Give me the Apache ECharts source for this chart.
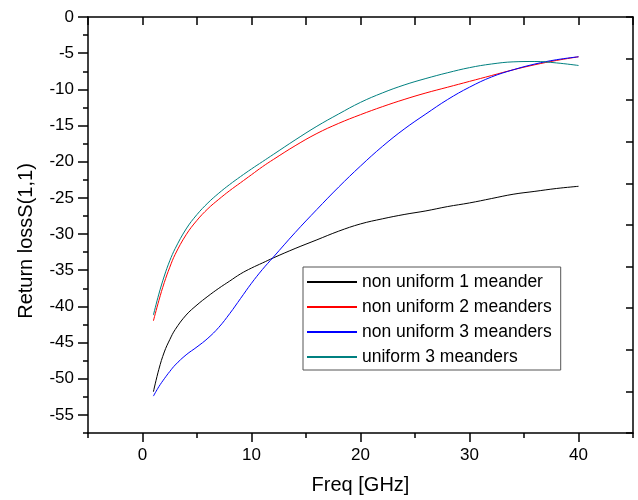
<!DOCTYPE html>
<html lang="en">
<head>
    <meta charset="UTF-8">
    <title>Return loss S(1,1)</title>
    <script type="text/javascript" src="https://cdn.jsdelivr.net/npm/echarts@6/dist/echarts.min.js"></script>
    <style type="text/css">
        html, body { margin: 0; padding: 0; background: #fff; }
        #chart { width: 638px; height: 500px; }
    </style>
</head>
<body>
<div id="chart"></div>
<script type="text/javascript">
    // frequency samples (GHz)
    var freq = [1, 1.5, 2, 2.5, 3, 4, 5, 6, 7, 8, 9, 10, 11, 12, 14, 16, 18, 20, 22, 24, 26, 28, 30, 32, 34, 36, 38, 40];

    // return loss S(1,1), dB
    var nonUniform1 = [-51.8, -48.7, -46.3, -44.6, -43.2, -41.2, -39.8, -38.6, -37.5, -36.5, -35.5, -34.7, -34.0, -33.3,
        -32.0, -30.8, -29.6, -28.6, -27.9, -27.3, -26.8, -26.2, -25.7, -25.1, -24.5, -24.1, -23.7, -23.4];
    var nonUniform2 = [-42.0, -39.2, -36.7, -34.6, -32.8, -30.1, -28.1, -26.5, -25.2, -24.0, -22.9, -21.8, -20.7, -19.7,
        -17.8, -16.1, -14.7, -13.5, -12.4, -11.4, -10.5, -9.7, -8.9, -8.1, -7.3, -6.6, -6.0, -5.5];
    var nonUniform3 = [-52.4, -51.1, -50.0, -49.0, -48.1, -46.7, -45.6, -44.4, -42.9, -41.0, -38.9, -36.8, -34.9, -33.2,
        -29.8, -26.6, -23.5, -20.6, -17.9, -15.5, -13.4, -11.4, -9.7, -8.3, -7.3, -6.5, -5.9, -5.5];
    var uniform3 = [-41.2, -38.3, -35.8, -33.7, -32.0, -29.3, -27.3, -25.7, -24.35, -23.15, -22.05, -21.0, -20.0, -19.0,
        -17.0, -15.1, -13.4, -11.8, -10.5, -9.4, -8.5, -7.7, -7.0, -6.5, -6.2, -6.15, -6.35, -6.7];

    var seriesNames = ['non uniform 1 meander', 'non uniform 2 meanders', 'non uniform 3 meanders', 'uniform 3 meanders'];
    var seriesValues = [nonUniform1, nonUniform2, nonUniform3, uniform3];
    var colors = ['#000000', '#ff0000', '#0000ff', '#008080'];

    // tick positions
    var xMajor = [0, 10, 20, 30, 40];
    var xMinor = [-5, 5, 15, 25, 35, 45];
    var yMajor = [0, -5, -10, -15, -20, -25, -30, -35, -40, -45, -50, -55];
    var yMinor = [-2.5, -7.5, -12.5, -17.5, -22.5, -27.5, -32.5, -37.5, -42.5, -47.5, -52.5, -57.5];

    var font = "'Liberation Sans', Arial, Helvetica, sans-serif";
    var axisColor = '#000';

    function pairs(vals) {
        return freq.map(function (f, i) { return [f, vals[i]]; });
    }

    var chart = echarts.init(document.getElementById('chart'));

    var baseX = {type: 'value', min: -5, max: 45, splitLine: {show: false}};
    var baseY = {type: 'value', min: -57.5, max: 0, splitLine: {show: false}};

    var option = {
        animation: false,
        backgroundColor: '#fff',
        grid: {left: 88, right: 5, top: 17, bottom: 65},
        legend: {
            orient: 'vertical',
            left: 303,
            top: 267,
            padding: [6, 9, 4, 4],
            itemGap: 7,
            itemWidth: 50,
            itemHeight: 2,
            icon: 'rect',
            borderColor: '#555',
            borderWidth: 1,
            textStyle: {fontFamily: font, fontSize: 17.5, color: '#000', lineHeight: 18},
            data: seriesNames
        },
        xAxis: [
            Object.assign({}, baseX, {
                position: 'bottom',
                name: 'Freq [GHz]',
                nameLocation: 'middle',
                nameGap: 42,
                nameTextStyle: {fontFamily: font, fontSize: 20, color: '#000'},
                axisLine: {onZero: false, lineStyle: {color: axisColor, width: 1.5}},
                axisTick: {customValues: xMajor, length: 9, lineStyle: {width: 1.5}},
                axisLabel: {customValues: xMajor, margin: 14, fontFamily: font, fontSize: 17, color: '#000'}
            }),
            Object.assign({}, baseX, {
                position: 'bottom',
                axisLine: {show: false, onZero: false},
                axisTick: {customValues: xMinor, length: 5, lineStyle: {color: axisColor, width: 1.5}},
                axisLabel: {show: false}
            }),
            Object.assign({}, baseX, {
                position: 'top',
                interval: 5,
                axisLine: {onZero: false, lineStyle: {color: axisColor, width: 1.5}},
                axisTick: {inside: true, length: 8, lineStyle: {width: 1.5}},
                axisLabel: {show: false}
            })
        ],
        yAxis: [
            Object.assign({}, baseY, {
                position: 'left',
                name: 'Return lossS(1,1)',
                nameLocation: 'middle',
                nameGap: 52,
                nameTextStyle: {fontFamily: font, fontSize: 20, color: '#000', padding: [0, 32, 0, 0]},
                axisLine: {onZero: false, lineStyle: {color: axisColor, width: 1.5}},
                axisTick: {customValues: yMajor, length: 10, lineStyle: {width: 1.5}},
                axisLabel: {customValues: yMajor, margin: 14, fontFamily: font, fontSize: 17, color: '#000'}
            }),
            Object.assign({}, baseY, {
                position: 'left',
                axisLine: {show: false, onZero: false},
                axisTick: {customValues: yMinor, length: 5, lineStyle: {color: axisColor, width: 1.5}},
                axisLabel: {show: false}
            }),
            {
                // mirrored right axis: plain tick marks, 10 divisions
                type: 'value', position: 'right', min: 0, max: 10, interval: 1, inverse: true,
                splitLine: {show: false},
                axisLine: {onZero: false, lineStyle: {color: axisColor, width: 1.5}},
                axisTick: {inside: true, length: 7, lineStyle: {width: 1.5}},
                axisLabel: {show: false}
            }
        ],
        series: seriesNames.map(function (name, i) {
            return {
                name: name,
                type: 'line',
                xAxisIndex: 0,
                yAxisIndex: 0,
                smooth: 0.4,
                symbol: 'none',
                color: colors[i],
                lineStyle: {width: 1, color: colors[i]},
                data: pairs(seriesValues[i])
            };
        })
    };

    chart.setOption(option);
</script>
</body>
</html>
